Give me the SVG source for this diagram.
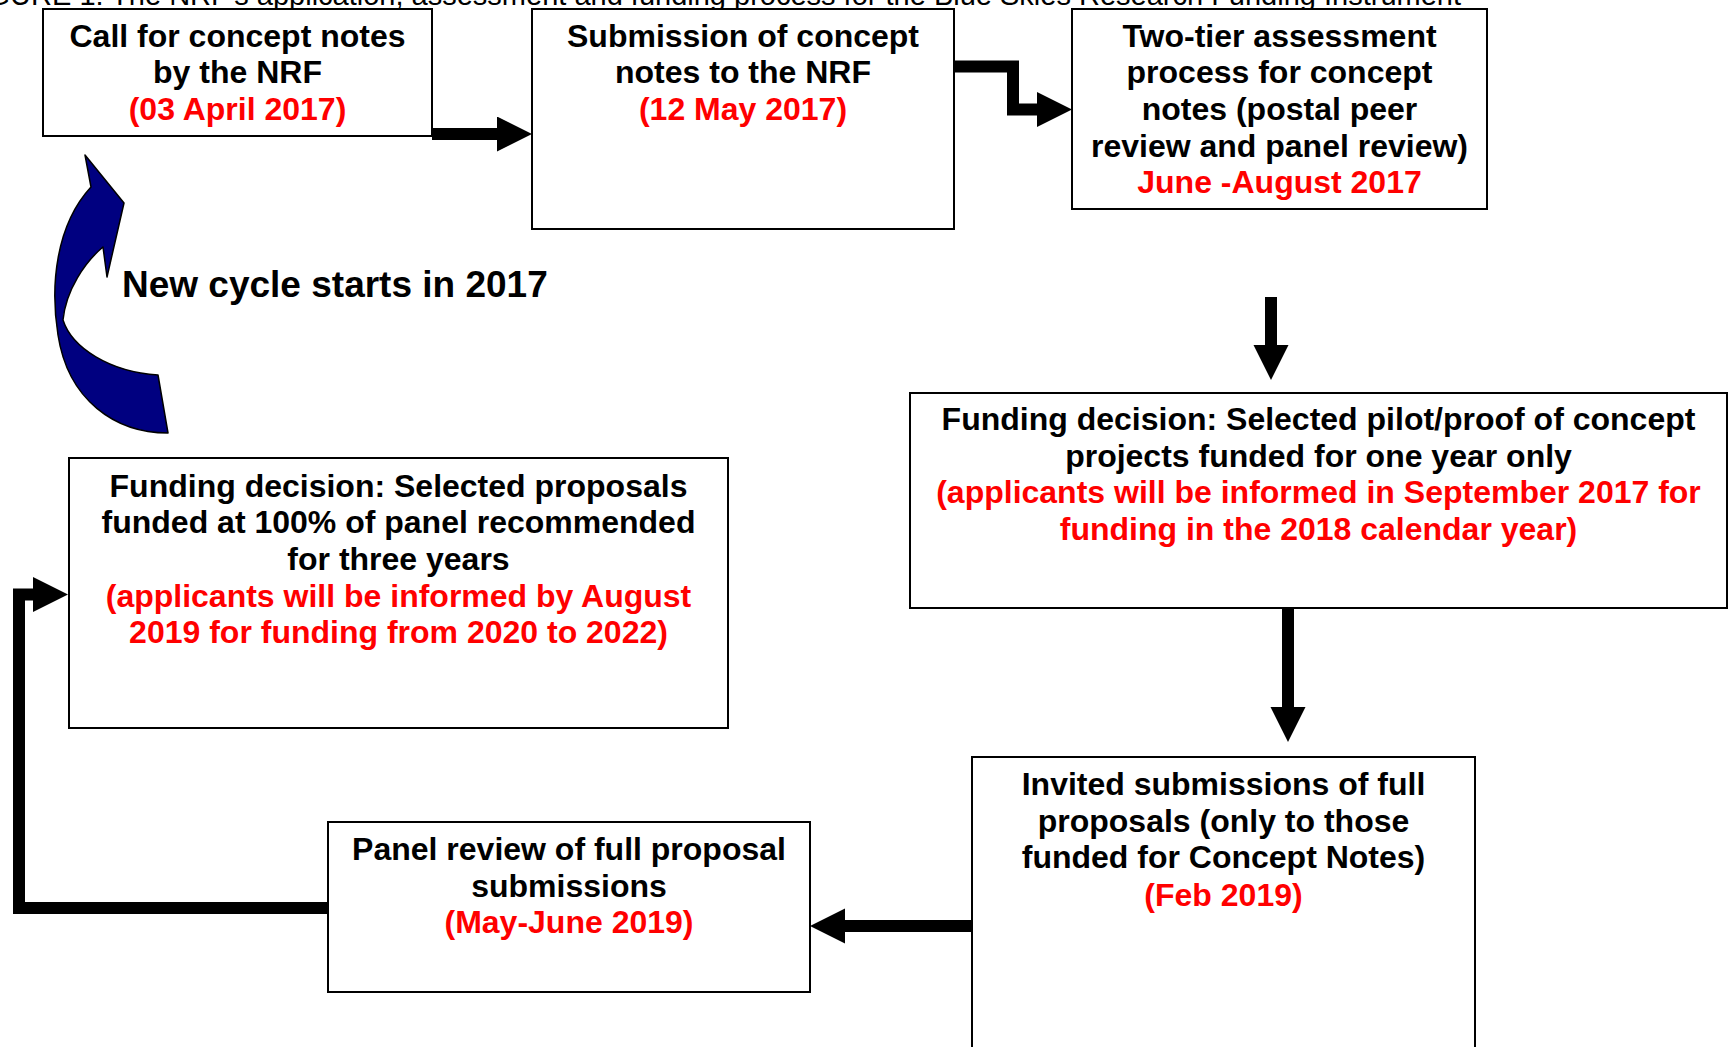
<svg xmlns="http://www.w3.org/2000/svg" width="1735" height="1047" viewBox="0 0 1735 1047">
<defs>
<style>
.box{fill:#fff;stroke:#000;stroke-width:2}
.t{font-family:"Liberation Sans",Arial,sans-serif;font-weight:bold;font-size:32px;text-anchor:middle;fill:#000}
.r{fill:#ff0000}
.conn{fill:none;stroke:#000;stroke-width:12;stroke-linejoin:miter;marker-end:url(#head)}
.title{font-family:"Liberation Sans",Arial,sans-serif;font-size:29px;fill:#000;text-anchor:end}
</style>
<marker id="head" markerUnits="userSpaceOnUse" markerWidth="36" markerHeight="36" refX="0" refY="17.5" orient="auto">
<path d="M0,0 L35,17.5 L0,35 Z" fill="#000"/>
</marker>
</defs>
<rect width="1735" height="1047" fill="#fff"/>
<text class="title" x="1461" y="5">FIGURE 1: The NRF's application, assessment and funding process for the Blue Skies Research Funding Instrument</text>

<g id="connectors">
<path class="conn" d="M432,134 H497"/>
<path class="conn" d="M953,66.5 H1013 V109.5 H1037"/>
<path class="conn" d="M1271,297 V345"/>
<path class="conn" d="M1288,609 V707"/>
<path class="conn" d="M972,926 H845"/>
<path class="conn" d="M328,908 H19 V594.5 H33"/>
</g>

<g id="cycle-arrow">
<path d="M85,155 L124,203 L107,277 L103,247 C85,262 66,290 63,320 C72,348 110,372 158,375 L168,433 C115,433 68,400 58,335 C50,285 56,225 91,187 Z" fill="#000080" stroke="#000" stroke-width="1.5" stroke-linejoin="round"/>
<text class="t" x="122" y="297" style="text-anchor:start;font-size:37px">New cycle starts in 2017</text>
</g>

<g id="n1">
<rect class="box" x="43" y="9" width="389" height="127"/>
<text class="t" x="237.5" y="47">Call for concept notes</text>
<text class="t" x="237.5" y="83">by the NRF</text>
<text class="t r" x="237.5" y="120">(03 April 2017)</text>
</g>

<g id="n2">
<rect class="box" x="532" y="9" width="422" height="220"/>
<text class="t" x="743" y="47">Submission of concept</text>
<text class="t" x="743" y="83">notes to the NRF</text>
<text class="t r" x="743" y="120">(12 May 2017)</text>
</g>

<g id="n3">
<rect class="box" x="1072" y="9" width="415" height="200"/>
<text class="t" x="1279.5" y="47">Two-tier assessment</text>
<text class="t" x="1279.5" y="83">process for concept</text>
<text class="t" x="1279.5" y="120">notes (postal peer</text>
<text class="t" x="1279.5" y="157">review and panel review)</text>
<text class="t r" x="1279.5" y="193">June -August 2017</text>
</g>

<g id="n4">
<rect class="box" x="910" y="393" width="817" height="215"/>
<text class="t" x="1318.5" y="430">Funding decision: Selected pilot/proof of concept</text>
<text class="t" x="1318.5" y="467">projects funded for one year only</text>
<text class="t r" x="1318.5" y="503">(applicants will be informed in September 2017 for</text>
<text class="t r" x="1318.5" y="540">funding in the 2018 calendar year)</text>
</g>

<g id="n5">
<rect class="box" x="69" y="458" width="659" height="270"/>
<text class="t" x="398.5" y="497">Funding decision: Selected proposals</text>
<text class="t" x="398.5" y="533">funded at 100% of panel recommended</text>
<text class="t" x="398.5" y="570">for three years</text>
<text class="t r" x="398.5" y="607">(applicants will be informed by August</text>
<text class="t r" x="398.5" y="643">2019 for funding from 2020 to 2022)</text>
</g>

<g id="n6">
<rect class="box" x="328" y="822" width="482" height="170"/>
<text class="t" x="569" y="860">Panel review of full proposal</text>
<text class="t" x="569" y="897">submissions</text>
<text class="t r" x="569" y="933">(May-June 2019)</text>
</g>

<g id="n7">
<rect class="box" x="972" y="757" width="503" height="310"/>
<text class="t" x="1223.5" y="795">Invited submissions of full</text>
<text class="t" x="1223.5" y="832">proposals (only to those</text>
<text class="t" x="1223.5" y="868">funded for Concept Notes)</text>
<text class="t r" x="1223.5" y="906">(Feb 2019)</text>
</g>
</svg>
